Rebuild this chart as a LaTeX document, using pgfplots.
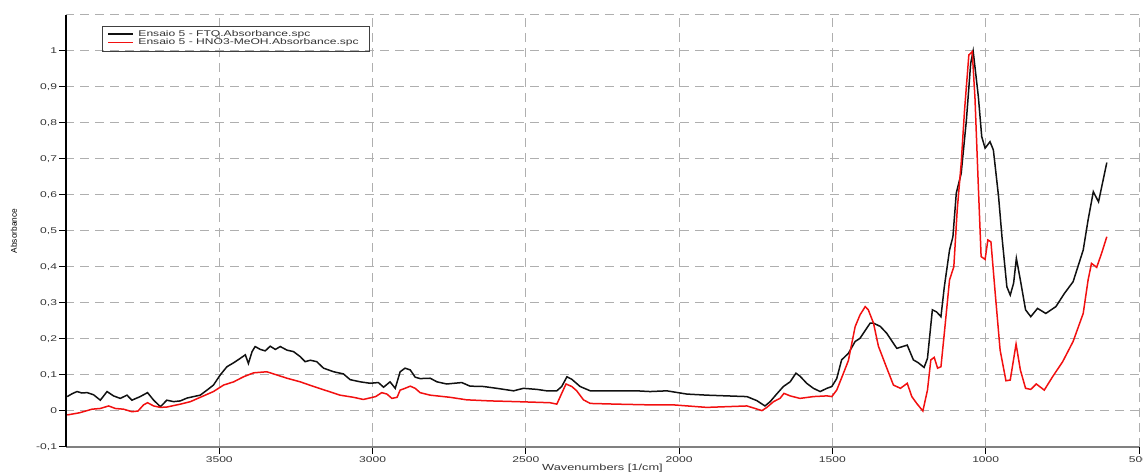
\documentclass[border=0pt]{standalone}
\usepackage{fontspec}
\setmainfont{Liberation Sans}[FakeStretch=1.45]
\newfontfamily\ylabfont{Liberation Sans}
\usepackage{pgfplots}
\pgfplotsset{compat=1.18}
\definecolor{gridc}{HTML}{AFAFAF}
\definecolor{txt}{HTML}{333333}
\definecolor{ftq}{HTML}{111111}
\definecolor{hno}{HTML}{F21010}
\begin{document}
\begin{tikzpicture}
\begin{axis}[name=ax, scale only axis, width=643.8pt, height=259.2pt,
  x dir=reverse, xmin=500, xmax=4000, ymin=-0.1, ymax=1.1,
  axis lines*=left,
  x axis line style={color=gray, line width=1.2pt},
  y axis line style={color=black, line width=1.2pt},
  xtick={500,1000,1500,2000,2500,3000,3500},
  xticklabels={500,1000,1500,2000,2500,3000,3500},
  ytick={-0.1,0,0.1,0.2,0.3,0.4,0.5,0.6,0.7,0.8,0.9,1.0},
  yticklabels={{-0,1},0,{0,1},{0,2},{0,3},{0,4},{0,5},{0,6},{0,7},{0,8},{0,9},1},
  extra y ticks={1.1}, extra y tick labels={},
  extra y tick style={grid=major, tick style={draw=none}},
  tick align=outside, major tick length=4pt,
  tick style={black, line width=0.6pt},
  grid=major,
  major grid style={gridc, dash pattern=on 5.4pt off 3.6pt, line width=0.6pt},
  /pgf/number format/assume math mode=true,
  every tick label/.append style={font=\fontsize{5}{6}\selectfont, text=txt},
  xticklabel style={inner sep=1.5pt},
  yticklabel style={inner sep=1.2pt},
  xlabel={Wavenumbers [1/cm]},
  xlabel style={at={(axis description cs:0.5,0)}, anchor=center, yshift=-12.9pt, font=\fontsize{5.3}{6}\selectfont, text=txt},
  ylabel={Absorbance},
  ylabel style={at={(axis description cs:-0.0485,0.5)}, anchor=center, font=\ylabfont\fontsize{5}{5.5}\selectfont, text=black},
]
\addplot[ftq, line width=0.9pt] coordinates {
(3996,0.040) (3980,0.048) (3964,0.054) (3948,0.050) (3931,0.051) (3910,0.045) (3888,0.030) (3866,0.054)
(3845,0.042) (3823,0.035) (3801,0.044) (3785,0.030) (3758,0.040) (3734,0.051) (3714,0.030) (3692,0.012)
(3671,0.030) (3649,0.026) (3627,0.028) (3605,0.036) (3584,0.040) (3562,0.044) (3540,0.058) (3519,0.072)
(3497,0.100) (3475,0.123) (3453,0.134) (3432,0.146) (3415,0.156) (3405,0.132) (3393,0.165) (3383,0.179)
(3366,0.171) (3350,0.167) (3334,0.180) (3317,0.171) (3301,0.179) (3279,0.169) (3258,0.165) (3236,0.151)
(3220,0.137) (3203,0.141) (3182,0.137) (3160,0.119) (3127,0.109) (3095,0.103) (3073,0.087) (3040,0.081)
(3008,0.077) (2981,0.079) (2964,0.066) (2943,0.081) (2926,0.063) (2910,0.109) (2894,0.119) (2877,0.114)
(2861,0.094) (2845,0.090) (2812,0.091) (2790,0.081) (2758,0.075) (2709,0.079) (2682,0.069) (2638,0.068)
(2595,0.063) (2540,0.056) (2508,0.063) (2464,0.060) (2432,0.056) (2399,0.056) (2383,0.068) (2366,0.095)
(2350,0.088) (2323,0.068) (2290,0.056) (2203,0.056) (2138,0.056) (2095,0.054) (2040,0.056) (1975,0.047)
(1910,0.044) (1845,0.042) (1779,0.040) (1747,0.029) (1720,0.014) (1703,0.026) (1682,0.047) (1660,0.068)
(1638,0.081) (1619,0.105) (1606,0.097) (1584,0.077) (1562,0.063) (1540,0.054) (1518,0.063) (1502,0.068)
(1486,0.090) (1470,0.142) (1448,0.160) (1426,0.193) (1410,0.202) (1377,0.244) (1366,0.244) (1344,0.235)
(1323,0.216) (1290,0.174) (1256,0.183) (1236,0.142) (1220,0.134) (1201,0.121) (1190,0.146) (1174,0.281)
(1160,0.275) (1146,0.262) (1135,0.345) (1118,0.447) (1107,0.484) (1096,0.605) (1080,0.660) (1063,0.808)
(1049,0.966) (1041,1.000) (1024,0.873) (1013,0.762) (1002,0.730) (986,0.748) (975,0.725) (958,0.595)
(947,0.484) (931,0.345) (920,0.322) (909,0.355) (900,0.424) (887,0.364) (870,0.281) (853,0.262)
(831,0.285) (804,0.271) (771,0.290) (743,0.327) (715,0.359) (682,0.447) (666,0.531) (649,0.609)
(632,0.581) (605,0.690)
};
\addplot[hno, line width=0.9pt] coordinates {
(3996,-0.011) (3956,-0.005) (3915,0.005) (3888,0.007) (3861,0.014) (3839,0.007) (3812,0.005) (3785,-0.002)
(3765,0.000) (3747,0.017) (3734,0.023) (3714,0.014) (3692,0.010) (3671,0.011) (3627,0.019) (3594,0.026)
(3562,0.038) (3519,0.054) (3486,0.072) (3453,0.081) (3421,0.095) (3388,0.106) (3345,0.109) (3312,0.100)
(3279,0.091) (3236,0.081) (3192,0.068) (3149,0.056) (3106,0.044) (3062,0.038) (3030,0.032) (2990,0.040)
(2970,0.051) (2953,0.047) (2937,0.035) (2920,0.038) (2910,0.058) (2894,0.063) (2877,0.069) (2861,0.063)
(2845,0.051) (2812,0.044) (2747,0.038) (2693,0.031) (2616,0.028) (2530,0.026) (2421,0.023) (2399,0.019)
(2383,0.049) (2369,0.075) (2350,0.068) (2334,0.056) (2312,0.031) (2290,0.021) (2203,0.019) (2095,0.017)
(2019,0.017) (1910,0.010) (1845,0.012) (1779,0.014) (1752,0.007) (1730,0.001) (1714,0.010) (1692,0.026)
(1671,0.035) (1658,0.049) (1638,0.042) (1606,0.035) (1562,0.040) (1518,0.042) (1502,0.040) (1486,0.058)
(1464,0.105) (1448,0.140) (1426,0.234) (1410,0.267) (1393,0.290) (1383,0.281) (1366,0.244) (1350,0.180)
(1323,0.120) (1301,0.072) (1278,0.063) (1256,0.077) (1241,0.040) (1225,0.021) (1205,0.000) (1190,0.058)
(1179,0.142) (1168,0.149) (1157,0.119) (1146,0.123) (1135,0.216) (1118,0.364) (1104,0.401) (1093,0.558)
(1080,0.688) (1069,0.836) (1055,0.989) (1044,0.998) (1035,0.869) (1024,0.623) (1015,0.429) (1002,0.421)
(993,0.475) (983,0.470) (969,0.327) (953,0.169) (934,0.084) (920,0.086) (901,0.186) (887,0.114)
(870,0.063) (853,0.060) (835,0.075) (809,0.058) (782,0.095) (749,0.137) (715,0.193) (682,0.271)
(666,0.364) (655,0.410) (638,0.399) (622,0.438) (605,0.484)
};
\node[draw=darkgray, line width=0.5pt, anchor=north west, inner xsep=3.6pt, inner ysep=2.4pt,
  font=\fontsize{5}{4.8}\selectfont, text=txt, align=left]
  at (axis description cs:0.0336,0.9745)
  {\begin{tabular}{@{}l@{\hspace{3pt}}l@{\hspace{3pt}}}
   \textcolor{ftq}{\rule[1.1pt]{15pt}{0.9pt}} & Ensaio 5 - FTQ.Absorbance.spc\\
   \textcolor{hno}{\rule[1.1pt]{15pt}{0.9pt}} & Ensaio 5 - HNO3-MeOH.Absorbance.spc
   \end{tabular}};
\end{axis}
\pgfresetboundingbox
\path[use as bounding box] ([xshift=-39.6pt,yshift=-16.8pt]ax.south west) rectangle ([xshift=2.4pt,yshift=9pt]ax.north east);
\end{tikzpicture}
\end{document}
